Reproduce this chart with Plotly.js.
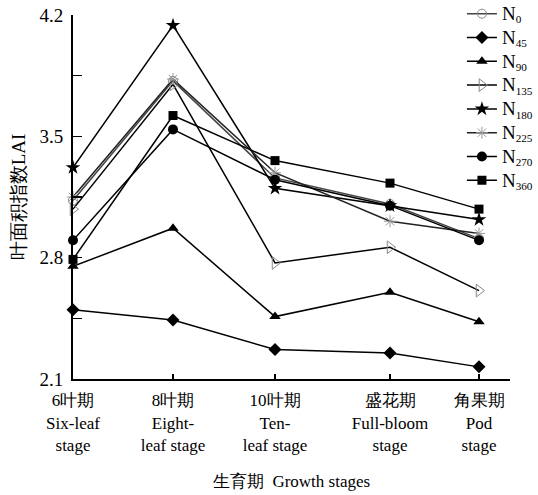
<!DOCTYPE html>
<html>
<head>
<meta charset="utf-8">
<script src="https://cdn.plot.ly/plotly-3.0.1.min.js"></script>
<style>html,body{margin:0;padding:0;background:#fff;}#chart{width:538px;height:495px;}</style>
</head>
<body>
<div id="chart"></div>
<script>
// Growth stages (positions along the x axis follow the original's uneven spacing)
const stageLabels = [
  "6叶期<br>Six-leaf<br>stage",
  "8叶期<br>Eight-<br>leaf stage",
  "10叶期<br>Ten-<br>leaf stage",
  "盛花期<br>Full-bloom<br>stage",
  "角果期<br>Pod<br>stage"
];
const stagePos = [0, 100, 202, 317, 406];

// LAI values per nitrogen treatment
const N0   = [3.13, 3.82, 3.26, 3.11, 2.91];
const N45  = [2.50, 2.44, 2.27, 2.25, 2.17];
const N90  = [2.75, 2.97, 2.46, 2.60, 2.43];
const N135 = [3.08, 3.80, 2.77, 2.86, 2.61];
const N180 = [3.32, 4.14, 3.20, 3.10, 3.02];
const N225 = [3.15, 3.83, 3.29, 3.01, 2.94];
const N270 = [2.90, 3.54, 3.25, 3.10, 2.90];
const N360 = [2.79, 3.62, 3.36, 3.23, 3.08];

const subs = ["0","45","90","135","180","225","270","360"];
const names = subs.map(s => "<span style='font-size:19px'>N</span><sub>" + s + "</sub>");
const series = [N0, N45, N90, N135, N180, N225, N270, N360];
const markers = [
  {symbol:"circle-open", color:"#888", size:9, line:{width:1, color:"#888"}},
  {symbol:"diamond", color:"#000", size:10},
  {symbol:"triangle-up", color:"#000", size:10},
  {symbol:"triangle-right-open", color:"#888", size:11, line:{width:1, color:"#888"}},
  {symbol:"star", color:"#000", size:11},
  {symbol:"asterisk-open", color:"#999", size:10, line:{width:1, color:"#999"}},
  {symbol:"circle", color:"#000", size:10},
  {symbol:"square", color:"#000", size:9}
];
const lineColors = ["#444","#000","#000","#000","#000","#222","#000","#000"];

const traces = series.map((s, i) => ({
  x: stagePos, y: s, name: names[i], type: "scatter", mode: "lines+markers",
  line: {color: lineColors[i], width: 1.5},
  marker: markers[i], cliponaxis: false
}));

const fontFam = "Liberation Serif";
const layout = {
  width: 538, height: 495,
  margin: {l: 73, r: 28, t: 15, b: 116, autoexpand: false},
  paper_bgcolor: "#fff", plot_bgcolor: "#fff",
  font: {family: fontFam, size: 17, color: "#000"},
  showlegend: true,
  legend: {x: 0.89, y: 1.05, xanchor: "left", yanchor: "top",
           font: {family: fontFam, size: 16, color: "#000"},
           bgcolor: "rgba(0,0,0,0)", tracegroupgap: 0},
  xaxis: {
    range: [0, 437], tickvals: stagePos, ticktext: stageLabels,
    showgrid: false, zeroline: false, showline: true, linecolor: "#000", linewidth: 2,
    ticks: "inside", ticklen: 5, tickcolor: "#000", tickwidth: 1.5,
    ticklabelstandoff: 5,
    tickfont: {family: fontFam, size: 17},
    title: {text: "生育期  Growth stages", font: {family: fontFam, size: 17}, standoff: 22}
  },
  yaxis: {
    range: [2.1, 4.2],
    tickvals: [2.1, 2.45, 2.8, 3.15, 3.5, 3.85, 4.2],
    ticktext: ["2.1", "", "2.8", "", "3.5", "", "4.2"],
    showgrid: false, zeroline: false, showline: true, linecolor: "#000", linewidth: 2,
    ticks: "inside", ticklen: 9, tickcolor: "#000", tickwidth: 1.5,
    ticklabelstandoff: 4,
    tickfont: {family: fontFam, size: 19},
    title: {text: "叶面积指数LAI", font: {family: fontFam, size: 19}, standoff: 9}
  }
};

Plotly.newPlot("chart", traces, layout, {displayModeBar: false, staticPlot: true});
</script>
</body>
</html>
